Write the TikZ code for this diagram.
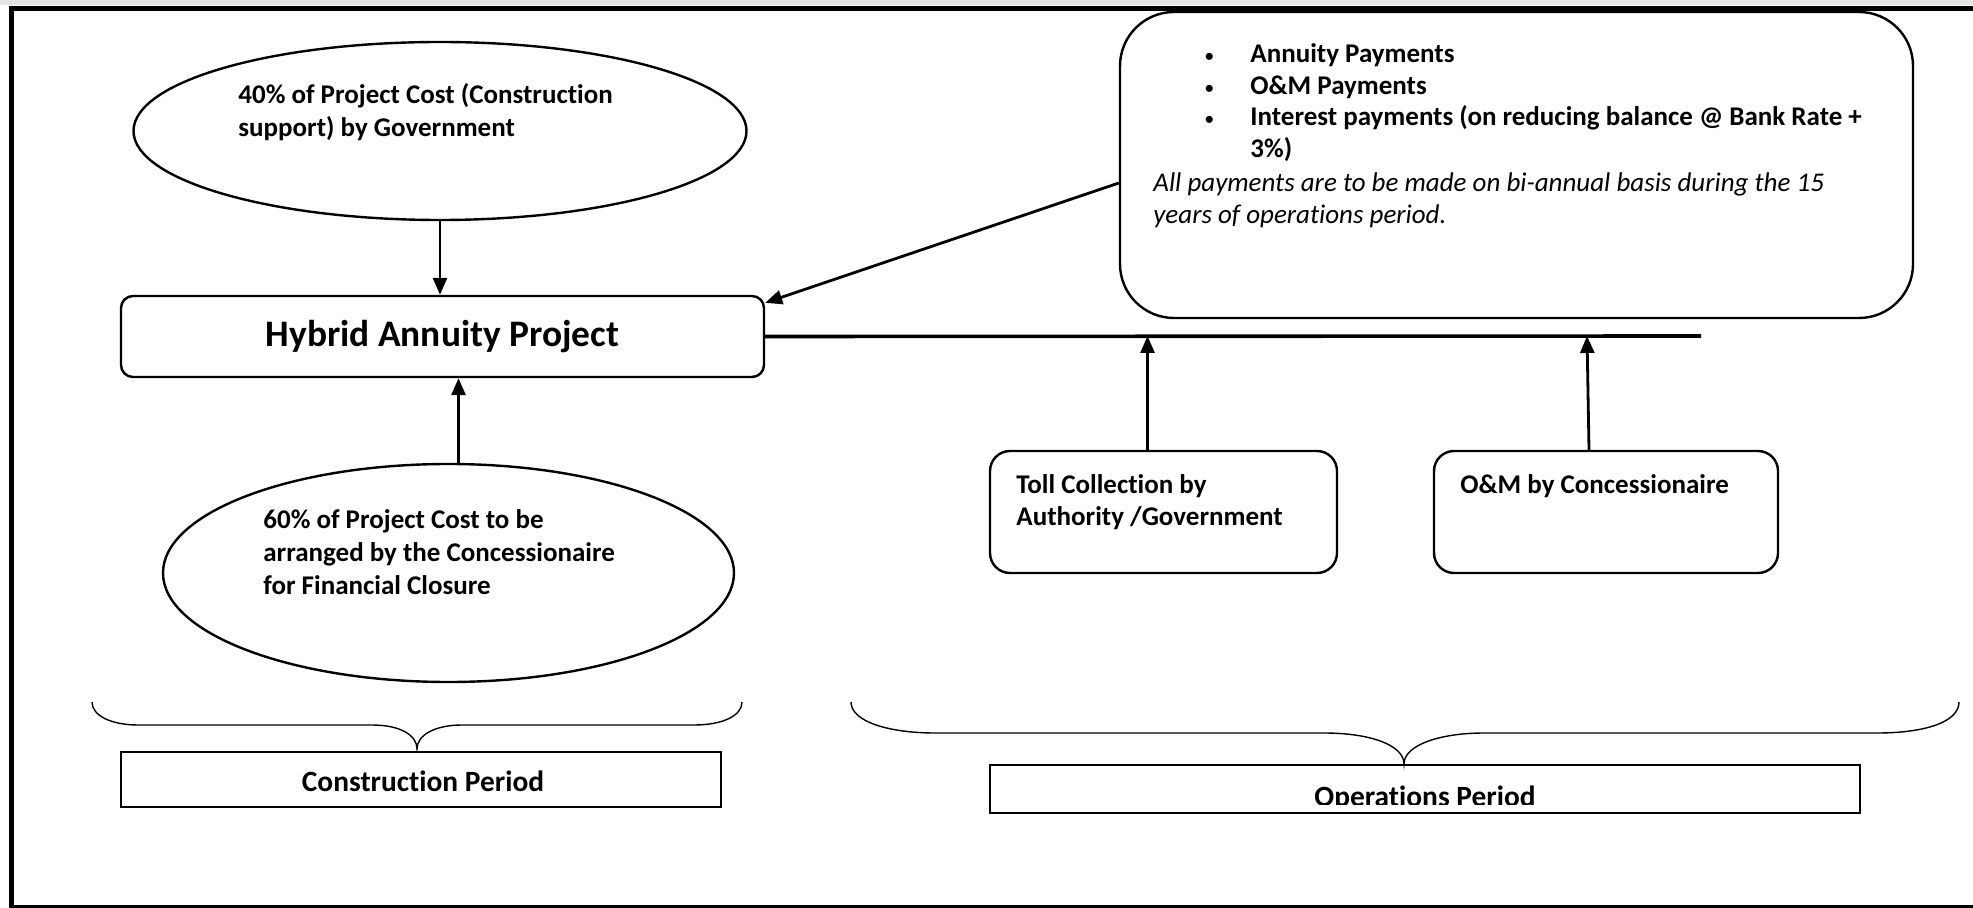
\documentclass[tikz,border=0pt]{standalone}
\usepackage{fontspec}
\setmainfont{Carlito}[Ligatures=NoCommon]
\usetikzlibrary{arrows.meta,shapes.geometric}

\begin{document}
\begin{tikzpicture}[x=0.5pt,y=-0.5pt,
  oval/.style={draw,ellipse,line width=1.2pt,inner sep=0pt},
  roundbox/.style={draw,rectangle,line width=1.2pt,inner sep=0pt},
  plainbox/.style={draw,rectangle,line width=0.8pt,inner sep=0pt},
  txt/.style={inner sep=0pt,align=left,font=\fontsize{13.5}{16.5}\selectfont\bfseries},
  flow/.style={line width=1.4pt,-{Triangle[length=8.5pt,width=7pt]}},
  brace/.style={line width=0.7pt}]
\useasboundingbox (0,0) rectangle (1973,908);
\clip (0,0) rectangle (1973,908);
\fill[gray!20] (0,0) rectangle (1973,5);
\draw[line width=2.5pt] (11,9) rectangle (2000,907); % frame

% construction side
\node[oval,minimum width=306.5pt,minimum height=89pt] (gov) at (440,131) {};
\node[txt,anchor=base west] (govtxt) at (238,137) {40\% of Project Cost (Construction\\support) by Government};
\node[roundbox,rounded corners=6pt,minimum width=321.5pt,minimum height=40.5pt,
  font=\fontsize{18.7}{22}\selectfont\bfseries] (hap) at (442.5,336.5) {Hybrid Annuity Project};
\node[oval,minimum width=285.5pt,minimum height=109pt] (conc) at (448.5,573) {};
\node[txt,anchor=base west] (conctxt) at (263,594) {60\% of Project Cost to be\\arranged by the Concessionaire\\for Financial Closure};
\draw[flow] (gov.south) -- (gov.south |- hap.north);
\draw[flow] ([xshift=5pt]conc.north) -- ([xshift=5pt]conc.north |- hap.south);

% operations side
\node[roundbox,rounded corners=27pt,minimum width=396.5pt,minimum height=153pt] (pay) at (1516.5,165) {};
\node[txt,anchor=base west,font=\fontsize{10}{15.75}\selectfont] (paydots) at (1204,126) {\textbullet\\\textbullet\\\textbullet};
\node[txt,anchor=base west,font=\fontsize{13.5}{15.75}\selectfont\bfseries] (paylist) at (1250,157.5) {Annuity Payments\\O\&M Payments\\Interest payments (on reducing balance @ Bank Rate +\\3\%)};
\node[txt,anchor=base west,font=\fontsize{13.5}{16}\selectfont\itshape] (paynote) at (1153,224) {All payments are to be made on bi-annual basis during the 15\\years of operations period.};
\draw[flow] ([yshift=-9pt]pay.west) -- ([yshift=-4pt]hap.north east);

\coordinate (busend) at (1701,336);
\draw[line width=1.8pt] (hap.east) -- (busend);

\node[roundbox,rounded corners=10pt,minimum width=173.5pt,minimum height=61pt] (toll) at (1163.5,512) {};
\node[txt,anchor=base west,font=\fontsize{13.5}{16}\selectfont\bfseries] (tolltxt) at (1016,525) {Toll Collection by\\Authority /Government};
\node[roundbox,rounded corners=10pt,minimum width=172pt,minimum height=61pt] (om) at (1606,512) {};
\node[txt,anchor=base west] (omtxt) at (1460,493) {O\&M by Concessionaire};
\draw[flow] ([xshift=-8pt]toll.north) -- ([xshift=-8pt]toll.north |- busend);
\draw[flow] ([xshift=-8.5pt]om.north) -- ([xshift=-9.5pt]om.north |- busend);

% periods
\draw[brace] (92,702) .. controls (92,716) and (112,725) .. (138,725) -- (372,725)
  .. controls (400,725) and (417,735) .. (417,749) .. controls (417,735) and (435,725) .. (462,725)
  -- (694,725) .. controls (722,725) and (742,716) .. (742,702);
\node[plainbox,minimum width=300pt,minimum height=27.5pt] (cons) at (421,779.5) {};
\node[txt,anchor=base,font=\fontsize{14.7}{17}\selectfont\bfseries] (constxt) at (423,791) {Construction Period};

\draw[brace] (851,702) .. controls (851,722) and (890,733) .. (935,733) -- (1324,733)
  .. controls (1370,733) and (1404,745) .. (1404,764) .. controls (1404,745) and (1440,733) .. (1484,733)
  -- (1877,733) .. controls (1925,733) and (1959,722) .. (1959,702);
\begin{scope}
\clip (990,765) rectangle (1860,804);
\node[txt,anchor=base,font=\fontsize{14.7}{17}\selectfont\bfseries] (opstxt) at (1425,806) {Operations Period};
\end{scope}
\node[plainbox,line width=1.2pt,minimum width=435pt,minimum height=24pt] (ops) at (1425,789) {};
\end{tikzpicture}
\end{document}
